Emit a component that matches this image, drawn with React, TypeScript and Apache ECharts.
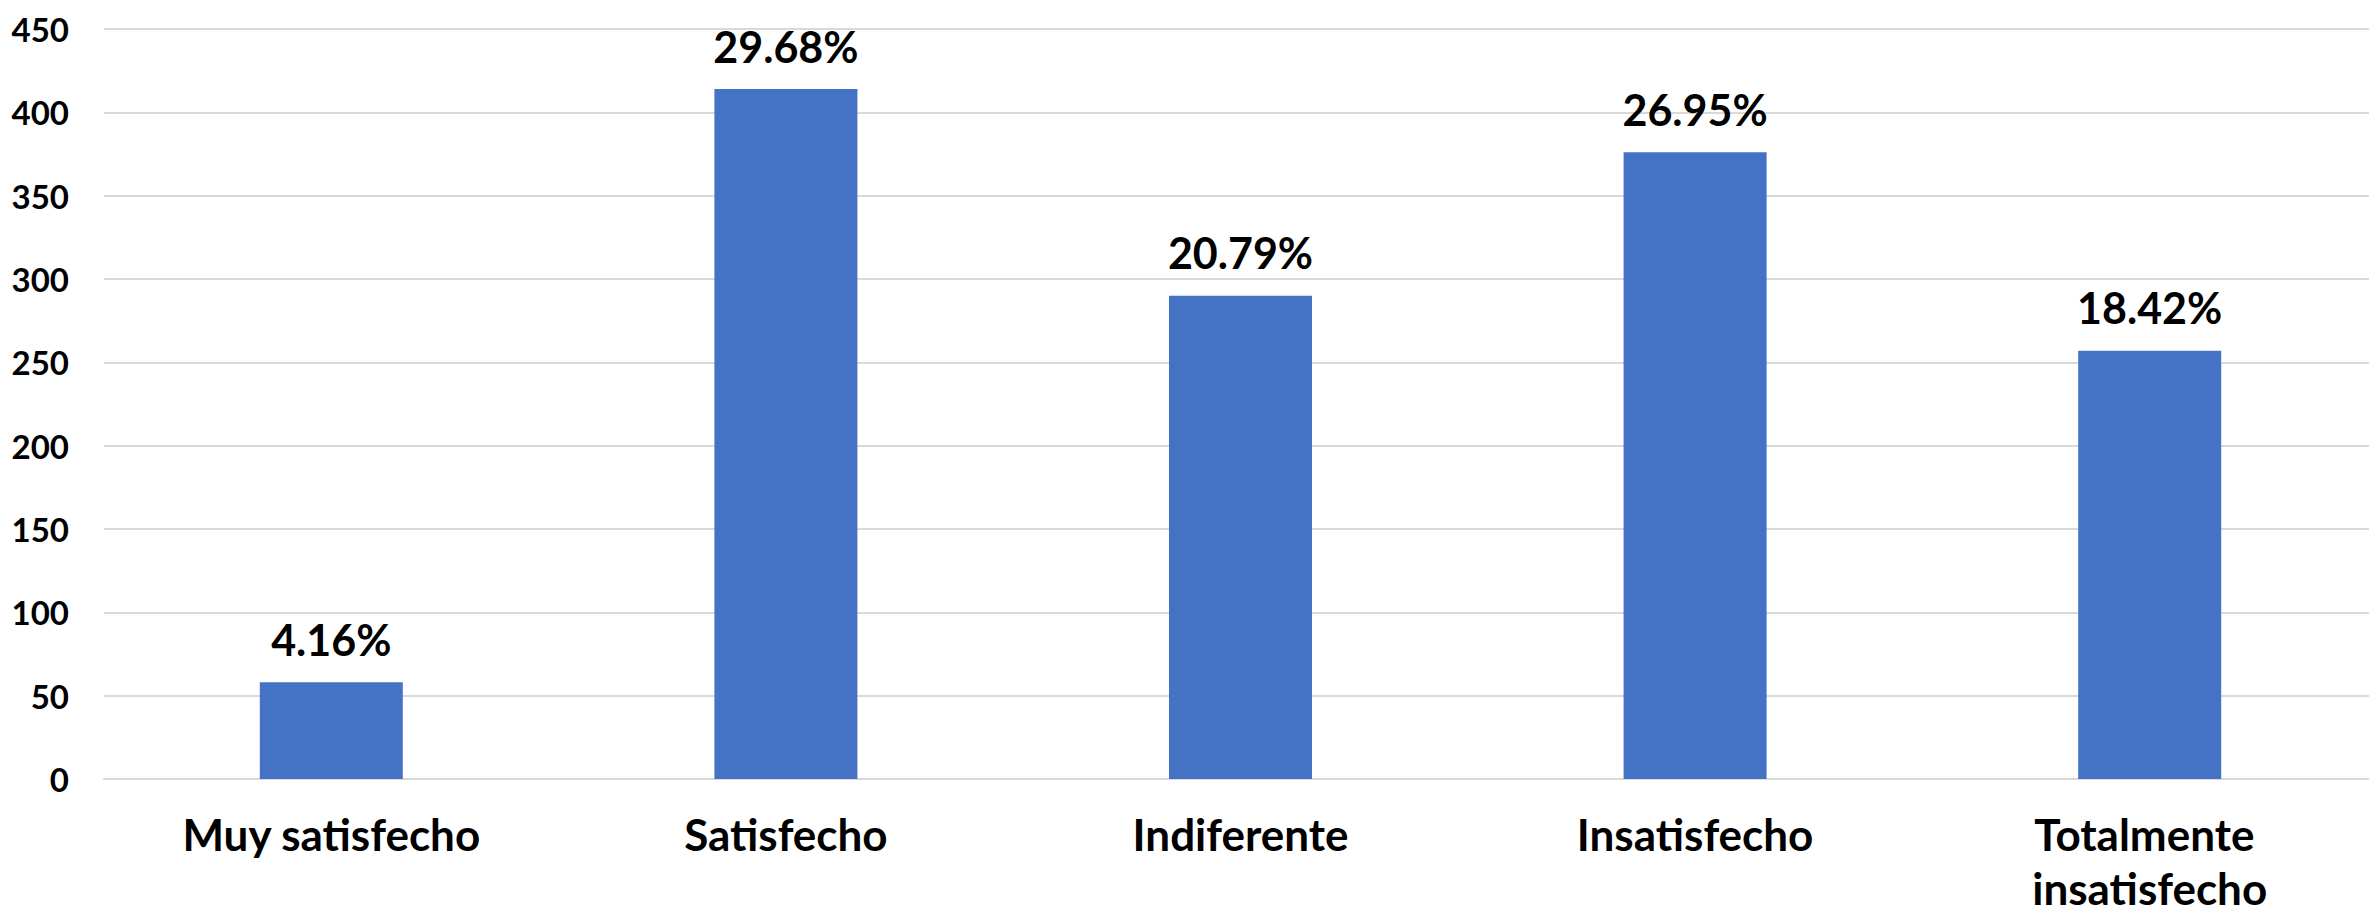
import React, { useEffect, useRef } from "react";
import * as echarts from "echarts";

const categories = ["Muy satisfecho", "Satisfecho", "Indiferente", "Insatisfecho", "Totalmente insatisfecho"];
const counts = [58, 414, 290, 376, 257];
const percentLabels = ["4.16%", "29.68%", "20.79%", "26.95%", "18.42%"];
const yTicks = { min: 0, max: 450, interval: 50 };

export default function App() {
  const ref = useRef<HTMLDivElement>(null);
  useEffect(() => {
    if (!ref.current) return;
    const chart = echarts.init(ref.current, null, { renderer: "svg" });
    chart.setOption({
      animation: false,
      backgroundColor: "#ffffff",
      grid: {
        left: 104,
        width: 2273,
        top: 29,
        height: 750,
        containLabel: false,
        outerBoundsMode: "none",
      },
      xAxis: {
        type: "category",
        data: categories,
        axisLine: { show: true, lineStyle: { color: "#d9d9d9", width: 2 } },
        axisTick: { show: false },
        axisLabel: {
          interval: 0,
          color: "#000",
          fontFamily: "Lato",
          fontWeight: "bold",
          fontSize: 44,
          lineHeight: 54,
          margin: 28,
          width: 420,
          overflow: "break",
        },
      },
      yAxis: {
        type: "value",
        min: yTicks.min,
        max: yTicks.max,
        interval: yTicks.interval,
        axisLine: { show: false },
        axisTick: { show: false },
        splitLine: { lineStyle: { color: "#d9d9d9", width: 2 } },
        axisLabel: {
          color: "#000",
          fontFamily: "Lato",
          fontWeight: "bold",
          fontSize: 33,
          margin: 35,
        },
      },
      series: [
        {
          type: "bar",
          data: counts,
          barWidth: 143,
          itemStyle: { color: "#4472C4" },
          label: {
            show: true,
            position: "top",
            distance: 17,
            color: "#000",
            fontFamily: "Lato",
            fontWeight: "bold",
            fontSize: 43,
            lineHeight: 52,
            formatter: (p: any) => percentLabels[p.dataIndex],
          },
        },
      ],
    });
    return () => chart.dispose();
  }, []);
  return (
    <div
      ref={ref}
      style={{ position: "absolute", left: 0, top: 0, width: 2369, height: 916, background: "#fff" }}
    />
  );
}
